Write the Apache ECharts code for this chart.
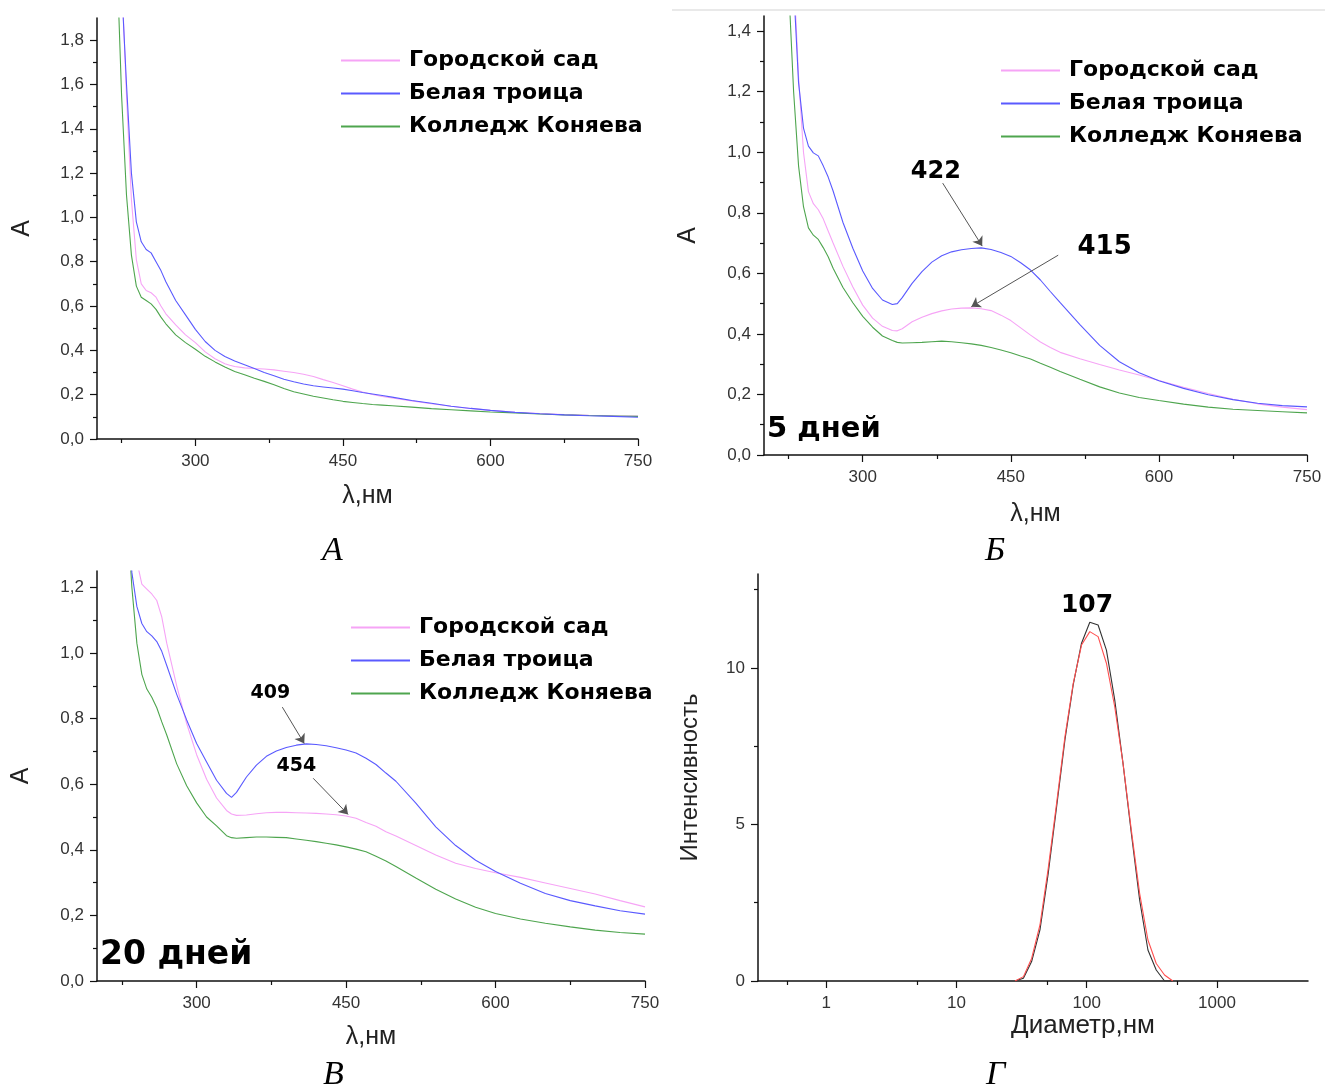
<!DOCTYPE html>
<html>
<head>
<meta charset="utf-8">
<script src="https://cdn.jsdelivr.net/npm/echarts@6/dist/echarts.min.js"></script>
<style>
html, body { margin: 0; padding: 0; background: #fff; }
#chart { width: 1325px; height: 1086px; }
</style>
</head>
<body>
<div id="chart"></div>
<script>
// длины волн (нм), общая сетка для трёх спектров
var wavelengths = [220, 225, 230, 235, 240, 245, 250, 255, 260, 265, 270, 280, 290, 300, 310, 320, 330, 335, 340, 350,
    360, 370, 380, 390, 400, 410, 420, 430, 440, 450, 460, 470, 480, 490, 500, 520, 540, 560, 580, 600,
    625, 650, 675, 700, 725, 750];

// А - исходные
var sadA = [2.6, 2.1, 1.55, 1.08, 0.81, 0.70, 0.67, 0.66, 0.64, 0.60, 0.565, 0.515, 0.47, 0.435, 0.393, 0.362, 0.34, 0.333, 0.327, 0.321,
    0.318, 0.316, 0.312, 0.306, 0.30, 0.292, 0.282, 0.268, 0.255, 0.24, 0.225, 0.212, 0.201, 0.192, 0.185, 0.172, 0.159, 0.148, 0.138, 0.129,
    0.121, 0.115, 0.11, 0.107, 0.105, 0.104];
var troitsaA = [2.6, 2.05, 1.6, 1.2, 0.98, 0.89, 0.855, 0.84, 0.80, 0.76, 0.71, 0.625, 0.56, 0.495, 0.44, 0.40, 0.372, 0.362, 0.352, 0.335,
    0.318, 0.30, 0.285, 0.27, 0.258, 0.248, 0.24, 0.235, 0.23, 0.225, 0.218, 0.21, 0.203, 0.196, 0.189, 0.174, 0.161, 0.148, 0.138, 0.129,
    0.12, 0.114, 0.109, 0.105, 0.102, 0.098];
var kollegA = [2.2, 1.55, 1.1, 0.83, 0.69, 0.64, 0.625, 0.61, 0.585, 0.55, 0.52, 0.47, 0.435, 0.405, 0.373, 0.348, 0.325, 0.315, 0.305, 0.29,
    0.274, 0.26, 0.245, 0.228, 0.213, 0.203, 0.193, 0.185, 0.177, 0.17, 0.165, 0.16, 0.156, 0.153, 0.15, 0.144, 0.137, 0.132, 0.127, 0.122,
    0.118, 0.113, 0.109, 0.106, 0.104, 0.102];

// Б - 5 дней
var sadB = [2.5, 2.0, 1.6, 1.25, 1.0, 0.87, 0.83, 0.81, 0.78, 0.74, 0.70, 0.623, 0.555, 0.495, 0.452, 0.425, 0.411, 0.41, 0.417, 0.44,
    0.455, 0.467, 0.476, 0.482, 0.485, 0.486, 0.483, 0.477, 0.462, 0.444, 0.42, 0.396, 0.373, 0.355, 0.339, 0.318, 0.299, 0.281, 0.264, 0.246,
    0.224, 0.203, 0.184, 0.169, 0.158, 0.15];
var troitsaB = [2.8, 2.1, 1.55, 1.23, 1.08, 1.02, 0.998, 0.988, 0.955, 0.918, 0.872, 0.768, 0.683, 0.608, 0.55, 0.512, 0.497, 0.50, 0.52, 0.567,
    0.606, 0.637, 0.658, 0.671, 0.678, 0.682, 0.684, 0.679, 0.669, 0.656, 0.635, 0.611, 0.578, 0.54, 0.503, 0.431, 0.362, 0.308, 0.272, 0.245,
    0.22, 0.199, 0.183, 0.171, 0.163, 0.159];
var kollegB = [2.2, 1.55, 1.2, 0.955, 0.82, 0.75, 0.726, 0.712, 0.685, 0.655, 0.617, 0.553, 0.503, 0.458, 0.422, 0.393, 0.378, 0.372, 0.37, 0.371,
    0.372, 0.374, 0.376, 0.374, 0.371, 0.367, 0.362, 0.355, 0.347, 0.338, 0.327, 0.317, 0.303, 0.29, 0.276, 0.25, 0.225, 0.205, 0.19, 0.18,
    0.168, 0.158, 0.151, 0.147, 0.143, 0.139];

// В - 20 дней
var sadC = [2.6, 2.2, 1.7, 1.4, 1.28, 1.21, 1.195, 1.18, 1.16, 1.11, 1.03, 0.90, 0.785, 0.69, 0.615, 0.558, 0.52, 0.509, 0.505, 0.506,
    0.51, 0.513, 0.514, 0.514, 0.513, 0.512, 0.511, 0.509, 0.507, 0.503, 0.496, 0.483, 0.472, 0.455, 0.442, 0.413, 0.384, 0.359, 0.343, 0.33,
    0.316, 0.299, 0.282, 0.265, 0.245, 0.226];
var troitsaC = [2.6, 2.0, 1.55, 1.245, 1.142, 1.09, 1.065, 1.052, 1.035, 1.005, 0.962, 0.874, 0.796, 0.724, 0.668, 0.612, 0.572, 0.56, 0.575, 0.622,
    0.658, 0.685, 0.701, 0.712, 0.719, 0.723, 0.721, 0.717, 0.711, 0.704, 0.695, 0.679, 0.66, 0.634, 0.609, 0.542, 0.47, 0.413, 0.368, 0.334,
    0.298, 0.267, 0.245, 0.229, 0.214, 0.204];
var kollegC = [2.4, 1.9, 1.45, 1.2, 1.03, 0.935, 0.89, 0.865, 0.833, 0.79, 0.75, 0.662, 0.595, 0.543, 0.50, 0.473, 0.443, 0.437, 0.435, 0.437,
    0.439, 0.439, 0.438, 0.437, 0.433, 0.429, 0.425, 0.42, 0.415, 0.409, 0.402, 0.394, 0.38, 0.366, 0.349, 0.314, 0.28, 0.25, 0.225, 0.206,
    0.189, 0.176, 0.165, 0.155, 0.148, 0.143];

// Г - распределение по размерам
var diameters = [28.2, 32.7, 37.8, 43.8, 50.7, 58.8, 68.1, 78.8, 91.3, 105.7, 122.4, 141.8, 164.2, 190.1, 220.2, 255.0, 295.3, 342.0, 396.1, 458.7];
var intensityBlack = [0, 0.09, 0.62, 1.63, 3.44, 5.57, 7.7, 9.46, 10.79, 11.46, 11.37, 10.57, 8.98, 6.95, 4.72, 2.59, 0.99, 0.35, 0, 0];
var intensityRed = [0, 0.14, 0.72, 1.79, 3.6, 5.68, 7.8, 9.5, 10.73, 11.16, 11.0, 10.15, 8.76, 6.95, 4.82, 2.8, 1.31, 0.56, 0.19, 0];

var seriesNames = ['Городской сад', 'Белая троица', 'Колледж Коняева'];
var seriesColors = ['#f6a4f6', '#5a5aff', '#4ea54e'];

var xMajorTicks = [300, 450, 600, 750];
var xMinorTicks = [225, 375, 525, 675];
var yTicksA = [0, 0.2, 0.4, 0.6, 0.8, 1.0, 1.2, 1.4, 1.6, 1.8];
var yMinorA = [0.1, 0.3, 0.5, 0.7, 0.9, 1.1, 1.3, 1.5, 1.7];
var yTicksB = [0, 0.2, 0.4, 0.6, 0.8, 1.0, 1.2, 1.4];
var yMinorB = [0.1, 0.3, 0.5, 0.7, 0.9, 1.1, 1.3];
var yTicksC = [0, 0.2, 0.4, 0.6, 0.8, 1.0, 1.2];
var yMinorC = [0.1, 0.3, 0.5, 0.7, 0.9, 1.1];
var yTicksD = [0, 5, 10];
var yMinorD = [2.5, 7.5, 12.5];
var xMinorD = [0.5, 5, 50, 500];

var FONT = 'Liberation Sans';
var BOLD = 'DejaVu Sans';

function pairs(xs, ys) {
    return xs.map(function (x, i) { return [x, ys[i]]; });
}

function commaLabel(v) {
    return v.toFixed(1).replace('.', ',');
}

var grids = [];
var xAxes = [];
var yAxes = [];
var series = [];

function axisLine() {
    return { show: true, onZero: false, lineStyle: { color: '#111', width: 1.5 } };
}

function addValueAxes(g, cfg) {
    var xi = xAxes.length;
    xAxes.push({
        type: cfg.xType || 'value', gridIndex: g, min: cfg.xmin, max: cfg.xmax, position: 'bottom',
        axisLine: axisLine(),
        axisTick: cfg.xTickValues ? { show: true, length: 7, customValues: cfg.xTickValues, lineStyle: { color: '#111', width: 1.2 } }
            : { show: true, length: 7, lineStyle: { color: '#111', width: 1.2 } },
        axisLabel: Object.assign({ color: '#333', fontSize: 17, fontFamily: FONT, margin: 14 }, cfg.xLabel),
        splitLine: { show: false },
        name: cfg.xName, nameLocation: 'middle', nameGap: cfg.xNameGap,
        nameTextStyle: Object.assign({ fontSize: 25, color: '#222', fontFamily: FONT }, cfg.xNameStyle)
    });
    xAxes.push({
        type: 'value', gridIndex: g, min: cfg.xMinorMin, max: cfg.xMinorMax, position: 'bottom',
        axisLine: { show: false, onZero: false },
        axisTick: { show: true, length: 4, customValues: cfg.xMinorValues, lineStyle: { color: '#111', width: 1.2 } },
        axisLabel: { show: false }, splitLine: { show: false }
    });
    var yi = yAxes.length;
    yAxes.push({
        type: 'value', gridIndex: g, min: 0, max: cfg.ymax, position: 'left',
        axisLine: axisLine(),
        axisTick: { show: true, length: 7, customValues: cfg.yTicks, lineStyle: { color: '#111', width: 1.2 } },
        axisLabel: { customValues: cfg.yTicks, formatter: cfg.yFormat, color: '#333', fontSize: 17, fontFamily: FONT, margin: 13 },
        splitLine: { show: false },
        name: cfg.yName, nameLocation: 'middle', nameGap: cfg.yNameGap,
        nameTextStyle: { fontSize: cfg.yNameSize || 25, color: '#222', fontFamily: FONT }
    });
    yAxes.push({
        type: 'value', gridIndex: g, min: 0, max: cfg.ymax, position: 'left',
        axisLine: { show: false, onZero: false },
        axisTick: { show: true, length: 4, customValues: cfg.yMinor, lineStyle: { color: '#111', width: 1.2 } },
        axisLabel: { show: false }, splitLine: { show: false }
    });
    return { x: xi, y: yi };
}

var spectra = [
    { grid: { left: 97, top: 18, width: 541, height: 421 }, ymax: 1.9, yTicks: yTicksA, yMinor: yMinorA,
      xNameGap: 45, yNameGap: 62, data: [sadA, troitsaA, kollegA] },
    { grid: { left: 764, top: 16, width: 543, height: 439 }, ymax: 1.45, yTicks: yTicksB, yMinor: yMinorB,
      xNameGap: 47, yNameGap: 63, data: [sadB, troitsaB, kollegB] },
    { grid: { left: 97, top: 571, width: 548, height: 410 }, ymax: 1.25, yTicks: yTicksC, yMinor: yMinorC,
      xNameGap: 44, yNameGap: 63, data: [sadC, troitsaC, kollegC] }
];

spectra.forEach(function (p, g) {
    grids.push(p.grid);
    var idx = addValueAxes(g, {
        xmin: 200, xmax: 750, xTickValues: xMajorTicks,
        xLabel: { customValues: xMajorTicks },
        xMinorMin: 200, xMinorMax: 750, xMinorValues: xMinorTicks,
        xName: 'λ,нм', xNameGap: p.xNameGap,
        ymax: p.ymax, yTicks: p.yTicks, yMinor: p.yMinor, yFormat: commaLabel,
        yName: 'А', yNameGap: p.yNameGap
    });
    p.data.forEach(function (arr, k) {
        series.push({
            type: 'line', name: seriesNames[k], xAxisIndex: idx.x, yAxisIndex: idx.y,
            data: pairs(wavelengths, arr), showSymbol: false, symbol: 'none', clip: true,
            lineStyle: { width: 1.1, color: seriesColors[k] }, itemStyle: { color: seriesColors[k] },
            z: k === 1 ? 3 : 2
        });
    });
});

// Г - логарифмическая ось
grids.push({ left: 758, top: 574, width: 550, height: 407 });
var idxD = addValueAxes(3, {
    xType: 'log', xmin: 0.3, xmax: 5000,
    xLabel: {
        showMinLabel: false, showMaxLabel: false,
        formatter: function (v) { return v >= 1 ? String(Math.round(v)) : String(v); }
    },
    xMinorMin: Math.log10(0.3), xMinorMax: Math.log10(5000), xMinorValues: xMinorD.map(Math.log10),
    xName: 'Диаметр,нм', xNameGap: 32, xNameStyle: { fontSize: 26, padding: [0, 0, 0, 100] },
    ymax: 13, yTicks: yTicksD, yMinor: yMinorD, yFormat: function (v) { return String(v); },
    yName: 'Интенсивность', yNameGap: 56, yNameSize: 24
});

series.push({
    type: 'line', name: 'black', xAxisIndex: idxD.x, yAxisIndex: idxD.y,
    data: pairs(diameters, intensityBlack), showSymbol: false, symbol: 'none',
    lineStyle: { width: 1.1, color: '#333' }, itemStyle: { color: '#333' },
    markPoint: {
        symbol: 'rect', symbolSize: 1, itemStyle: { color: 'rgba(0,0,0,0)' }, silent: true,
        label: { show: true, position: 'inside', color: '#000', fontSize: 25, fontWeight: 'bold', fontFamily: BOLD, formatter: '107' },
        data: [{ coord: [100.7, 12.0] }]
    }
});
series.push({
    type: 'line', name: 'red', xAxisIndex: idxD.x, yAxisIndex: idxD.y,
    data: pairs(diameters, intensityRed), showSymbol: false, symbol: 'none',
    lineStyle: { width: 1.1, color: '#ff4f4f' }, itemStyle: { color: '#ff4f4f' }
});

function annotate(s, text, size, textAt, from, to) {
    s.markPoint = {
        symbol: 'rect', symbolSize: 1, itemStyle: { color: 'rgba(0,0,0,0)' }, silent: true,
        label: { show: true, position: 'inside', color: '#000', fontSize: size, fontWeight: 'bold', fontFamily: BOLD, formatter: text },
        data: [{ coord: textAt }]
    };
    s.markLine = {
        silent: true, symbol: ['none', 'arrow'], symbolSize: 9,
        lineStyle: { color: '#555', width: 1, type: 'solid' },
        label: { show: false },
        data: [[{ coord: from }, { coord: to }]]
    };
}

// series index: panel*3 + k
annotate(series[4], '422', 24, [374, 0.934], [381, 0.898], [421, 0.69]);
annotate(series[3], '415', 26, [545, 0.686], [498, 0.66], [410, 0.49]);
annotate(series[7], '409', 19, [374, 0.877], [386, 0.835], [408, 0.724]);
annotate(series[6], '454', 19, [400, 0.655], [417, 0.618], [452, 0.508]);

function legendAt(left, top) {
    return {
        orient: 'vertical', left: left, top: top, padding: 0, itemGap: 8,
        itemWidth: 59, itemHeight: 2, icon: 'rect',
        textStyle: { fontFamily: BOLD, fontWeight: 'bold', fontSize: 22, color: '#000', lineHeight: 25, padding: [0, 0, 0, 4] },
        data: seriesNames, selectedMode: false
    };
}

var option = {
    backgroundColor: '#fff',
    animation: false,
    grid: grids,
    xAxis: xAxes,
    yAxis: yAxes,
    legend: [legendAt(341, 48), legendAt(1001, 58), legendAt(351, 615)],
    series: series,
    graphic: [
        { type: 'line', shape: { x1: 672, y1: 10, x2: 1325, y2: 10 }, style: { stroke: '#e2e2e2', lineWidth: 1.5 } },
        { type: 'text', left: 767, top: 415, style: { text: '5 дней', font: 'bold 29px "DejaVu Sans"', fill: '#000' } },
        { type: 'text', left: 100, top: 939, style: { text: '20 дней', font: 'bold 33px "DejaVu Sans"', fill: '#000' } },
        { type: 'text', left: 322, top: 534, style: { text: 'А', font: 'italic 34px "Liberation Serif"', fill: '#000' } },
        { type: 'text', left: 985, top: 534, style: { text: 'Б', font: 'italic 34px "Liberation Serif"', fill: '#000' } },
        { type: 'text', left: 323, top: 1058, style: { text: 'В', font: 'italic 34px "Liberation Serif"', fill: '#000' } },
        { type: 'text', left: 986, top: 1058, style: { text: 'Г', font: 'italic 34px "Liberation Serif"', fill: '#000' } }
    ]
};

echarts.init(document.getElementById('chart')).setOption(option);
</script>
</body>
</html>
